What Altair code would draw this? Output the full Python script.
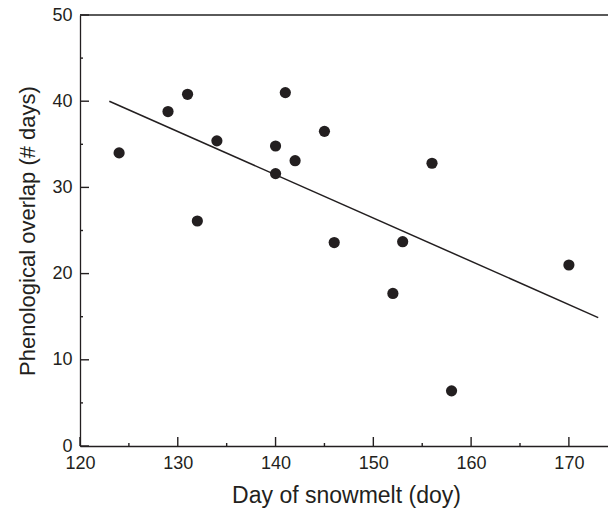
import altair as alt
import pandas as pd

# Data
snowmelt_day = [124, 129, 131, 132, 134, 140, 140, 141, 142, 145, 146, 152, 153, 156, 158, 170]
overlap_days = [34.0, 38.8, 40.8, 26.1, 35.4, 34.8, 31.6, 41.0, 33.1, 36.5, 23.6, 17.7, 23.7, 32.8, 6.4, 21.0]

fit_x = [123, 173]
fit_y = [40.0, 14.9]

x_major = [120, 130, 140, 150, 160, 170]
x_minor = [125, 135, 145, 155, 165]
y_major = [0, 10, 20, 30, 40, 50]
y_minor = [5, 15, 25, 35, 45]

W, H = 528, 431
XMIN, XMAX = 120, 174
YMIN, YMAX = 0, 50
INK = "#231f20"
FONT = "Liberation Sans"

# inward tick lengths (pixels) converted to data units
MAJ_PX, MIN_PX = 9, 3
ux = (XMAX - XMIN) / W
uy = (YMAX - YMIN) / H

pts = pd.DataFrame({"x": snowmelt_day, "y": overlap_days})
fit = pd.DataFrame({"x": fit_x, "y": fit_y})

xt = pd.DataFrame({
    "tx": x_major + x_minor,
    "a": [YMIN] * (len(x_major) + len(x_minor)),
    "b": [YMIN + MAJ_PX * uy] * len(x_major) + [YMIN + MIN_PX * uy] * len(x_minor),
})
yt = pd.DataFrame({
    "ty": y_major + y_minor,
    "a": [XMIN] * (len(y_major) + len(y_minor)),
    "b": [XMIN + MAJ_PX * ux] * len(y_major) + [XMIN + MIN_PX * ux] * len(y_minor),
})
topdf = pd.DataFrame({"x0": [XMIN], "x1": [XMAX], "y": [YMAX]})

xscale = alt.Scale(domain=[XMIN, XMAX], nice=False, zero=False)
yscale = alt.Scale(domain=[YMIN, YMAX], nice=False, zero=False)

xaxis = alt.Axis(values=x_major, ticks=False, grid=False, labelFontSize=18, labelPadding=8,
                 labelColor=INK, labelFont=FONT, domainColor=INK, domainWidth=1.3,
                 title="Day of snowmelt (doy)", titleFontSize=23, titleFontWeight="normal",
                 titleColor=INK, titleFont=FONT, titlePadding=12, titleX=266,
                 labelFlush=False, labelOverlap=False)
yaxis = alt.Axis(values=y_major, ticks=False, grid=False, labelFontSize=18, labelPadding=8,
                 labelColor=INK, labelFont=FONT, domainColor=INK, domainWidth=1.3,
                 title="Phenological overlap (# days)", titleFontSize=22, titleFontWeight="normal",
                 titleColor=INK, titleFont=FONT, titlePadding=12,
                 labelFlush=False, labelOverlap=False)

points = alt.Chart(pts).mark_circle(size=125, color=INK, opacity=1).encode(
    x=alt.X("x:Q", scale=xscale, axis=xaxis),
    y=alt.Y("y:Q", scale=yscale, axis=yaxis),
)

line = alt.Chart(fit).mark_line(color=INK, strokeWidth=1.5).encode(
    x=alt.X("x:Q", scale=xscale),
    y=alt.Y("y:Q", scale=yscale),
)

xticks = alt.Chart(xt).mark_rule(color=INK, strokeWidth=1.4).encode(
    x=alt.X("tx:Q", scale=xscale), y=alt.Y("a:Q", scale=yscale), y2="b:Q")
yticks = alt.Chart(yt).mark_rule(color=INK, strokeWidth=1.4).encode(
    y=alt.Y("ty:Q", scale=yscale), x=alt.X("a:Q", scale=xscale), x2="b:Q")

top = alt.Chart(topdf).mark_rule(color="#5a5a5a", strokeWidth=2).encode(
    x=alt.X("x0:Q", scale=xscale), x2="x1:Q", y=alt.Y("y:Q", scale=yscale))

chart = alt.layer(top, xticks, yticks, line, points).properties(
    width=W, height=H,
    autosize=alt.AutoSizeParams(type="none"),
    padding={"left": 72, "top": 7, "right": 0, "bottom": 64},
).configure_view(stroke=None).configure(background="white")

chart.save("out.html", embed_options={"renderer": "svg", "actions": False})
